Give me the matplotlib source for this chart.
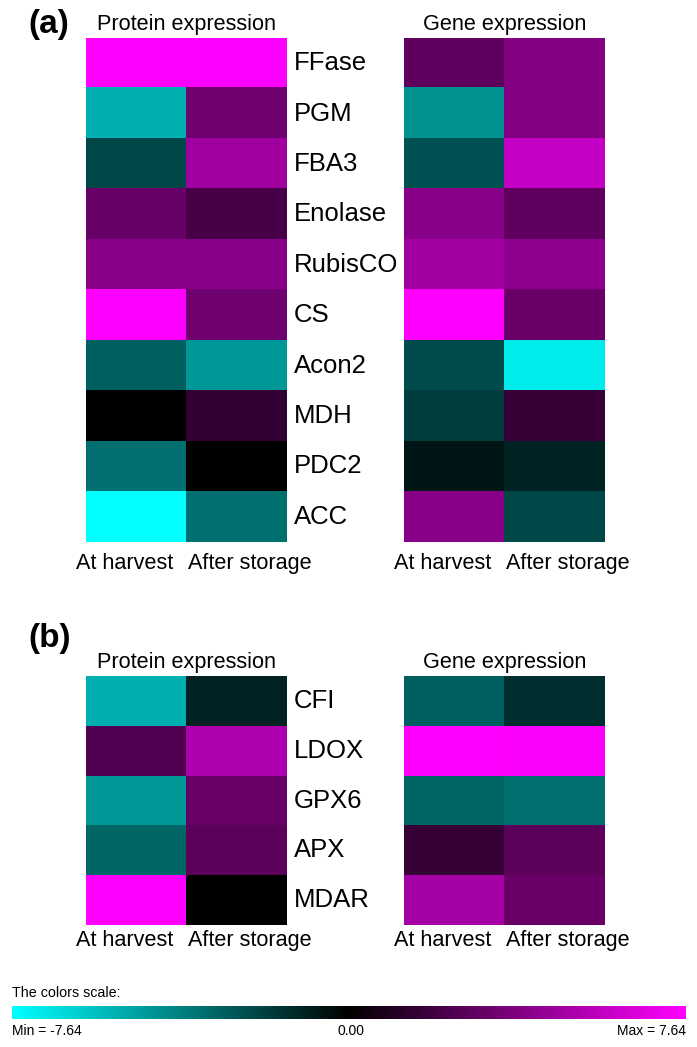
import numpy as np
import matplotlib
matplotlib.use("Agg")
import matplotlib.pyplot as plt
from matplotlib.colors import LinearSegmentedColormap

plt.rcParams["font.family"] = ["Liberation Sans", "DejaVu Sans"]

# data
conditions = ["At harvest", "After storage"]
genes_a = ["FFase", "PGM", "FBA3", "Enolase", "RubisCO", "CS", "Acon2", "MDH", "PDC2", "ACC"]
protein_a = [[7.64, 7.64], [-5.2, 3.3], [-2.1, 4.8], [3.1, 2.1], [4.0, 4.0],
             [7.64, 3.3], [-2.85, -4.5], [0.0, 1.5], [-3.3, 0.0], [-7.64, -3.3]]
gene_a = [[2.85, 3.9], [-4.35, 3.9], [-2.4, 5.85], [4.05, 2.85], [4.8, 4.2],
          [7.64, 3.15], [-2.25, -7.0], [-1.8, 1.65], [-0.6, -1.05], [4.05, -2.1]]
genes_b = ["CFI", "LDOX", "GPX6", "APX", "MDAR"]
protein_b = [[-5.2, -1.05], [2.4, 5.2], [-4.5, 3.15], [-3.0, 2.7], [7.64, 0.0]]
gene_b = [[-2.85, -1.35], [7.64, 7.5], [-3.0, -3.3], [1.65, 2.7], [4.9, 3.15]]
vmin, vmax = -7.64, 7.64

cmap = LinearSegmentedColormap.from_list("cbm", ["#00ffff", "#000000", "#ff00ff"])

W, H = 697, 1047
fig = plt.figure(figsize=(W / 100, H / 100), dpi=100)


def px_axes(x0, y0, x1, y1):
    return fig.add_axes([x0 / W, 1 - y1 / H, (x1 - x0) / W, (y1 - y0) / H])


def heat(x0, y0, x1, y1, values, title):
    ax = px_axes(x0, y0, x1, y1)
    arr = np.asarray(values)
    ax.imshow(arr, cmap=cmap, vmin=vmin, vmax=vmax, aspect="auto", interpolation="nearest")
    ax.set_xticks([])
    ax.set_yticks([])
    for s in ax.spines.values():
        s.set_visible(False)
    ax.set_title(title, fontsize=15.6, pad=6)
    # column labels sit around the middle boundary
    mid = (x0 + x1) / 2
    ax.text((mid - 13 - x0) / (x1 - x0), -0.022, conditions[0], transform=ax.transAxes,
            ha="right", va="top", fontsize=15.6)
    ax.text((mid + 1 - x0) / (x1 - x0), -0.022, conditions[1], transform=ax.transAxes,
            ha="left", va="top", fontsize=15.6)
    return ax


def panel(y0, y1, prot, gene, names, label, label_y):
    axp = heat(86, y0, 287, y1, prot, "Protein expression")
    heat(404, y0, 605, y1, gene, "Gene expression")
    for i, n in enumerate(names):
        axp.text(1.035, i, n, transform=axp.get_yaxis_transform(), ha="left", va="center",
                 fontsize=18.5)
    fig.text(28 / W, 1 - label_y / H, label, fontsize=24, fontweight="bold",
             ha="left", va="center")


panel(38, 542, protein_a, gene_a, genes_a, "(a)", 24)
panel(676, 925, protein_b, gene_b, genes_b, "(b)", 638)

# colour scale bar
cax = px_axes(12, 1006, 686, 1019)
grad = np.linspace(vmin, vmax, 512)[None, :]
cax.imshow(grad, cmap=cmap, vmin=vmin, vmax=vmax, aspect="auto")
cax.set_xticks([])
cax.set_yticks([])
for s in cax.spines.values():
    s.set_visible(False)
fig.text(12 / W, 1 - 993 / H, "The colors scale:", fontsize=10.3, va="center")
fig.text(12 / W, 1 - 1031 / H, f"Min = {vmin:.2f}", fontsize=10, va="center")
fig.text(351 / W, 1 - 1031 / H, f"{0:.2f}", fontsize=10, va="center", ha="center")
fig.text(686 / W, 1 - 1031 / H, f"Max = {vmax:.2f}", fontsize=10, va="center", ha="right")

fig.savefig("out.png", dpi=100)
